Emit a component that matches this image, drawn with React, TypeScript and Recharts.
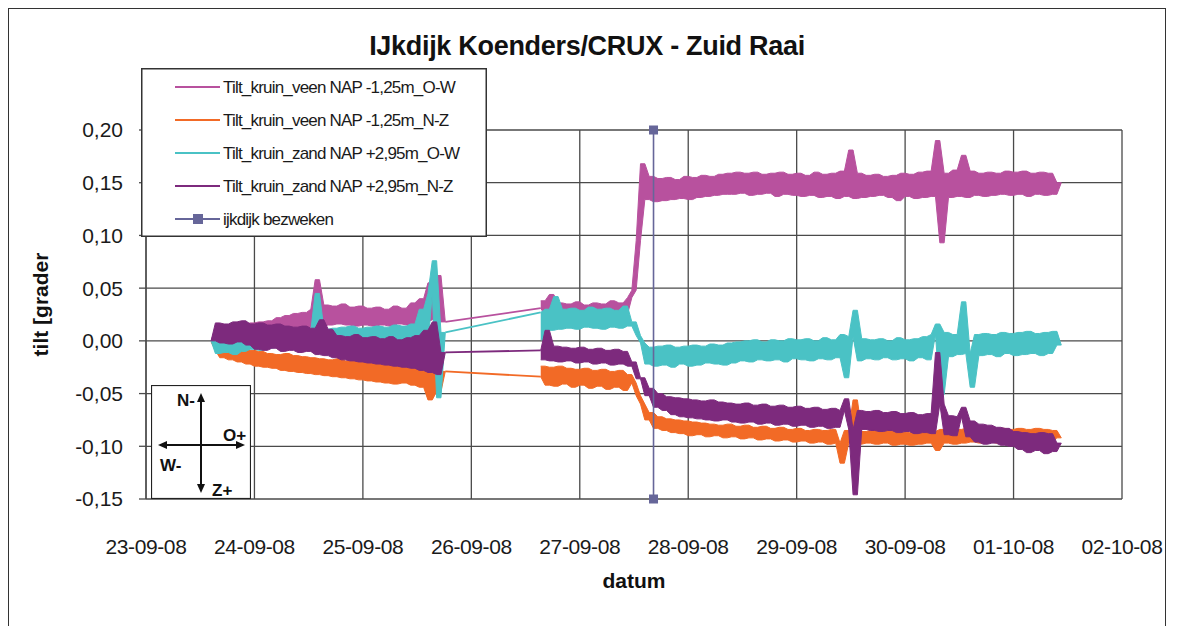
import { ComposedChart, Line, Area, XAxis, YAxis, CartesianGrid, Legend } from "recharts";

// ─── Axis labels ─────────────────────────────────────────────────────────────

const dateLabels = [
	"23-09-08", "24-09-08", "25-09-08", "26-09-08", "27-09-08",
	"28-09-08", "29-09-08", "30-09-08", "01-10-08", "02-10-08",
];
const dayTicks = dateLabels.map((_, i) => i);
const tiltTicks = [-0.15, -0.1, -0.05, 0, 0.05, 0.1, 0.15, 0.2];

// Logger sample grid, in days since 23-09-08 00:00. Two runs with a gap in between.
const run1Start = 0.6;
const run2Start = 3.64;
const sampleStep = 0.04;

// Moment the test dike failed (27-09-08 ~16:20)
const bezwekenDay = 4.68;
const bezwekenTilt = [0.2, -0.15];

// ─── Measured tilt [graden] ──────────────────────────────────────────────────

const veenOW_run1 = [
	0.000, 0.000, 0.012, 0.001, 0.013, 0.002, 0.014, 0.003, 0.016, 0.004,
	0.017, 0.005, 0.018, 0.007, 0.019, 0.008, 0.022, 0.010, 0.024, 0.011,
	0.026, 0.012, 0.027, 0.013, 0.030, 0.058, 0.014, 0.034, 0.015, 0.033,
	0.016, 0.035, 0.015, 0.032, 0.014, 0.033, 0.015, 0.031, 0.014, 0.032,
	0.015, 0.030, 0.014, 0.033, 0.016, 0.031, 0.015, 0.036, 0.016, 0.040,
	0.018, 0.055, 0.020, 0.062, 0.018,
];
const veenOW_run2 = [
	0.031, 0.038, 0.024, 0.044, 0.022, 0.036, 0.023, 0.035, 0.021, 0.037,
	0.023, 0.034, 0.022, 0.036, 0.024, 0.035, 0.022, 0.038, 0.024, 0.036,
	0.025, 0.041, 0.048, 0.095, 0.168, 0.134, 0.156, 0.132, 0.154, 0.133,
	0.155, 0.134, 0.153, 0.135, 0.156, 0.134, 0.155, 0.136, 0.157, 0.137,
	0.156, 0.138, 0.158, 0.139, 0.159, 0.139, 0.160, 0.140, 0.159, 0.138,
	0.160, 0.139, 0.158, 0.140, 0.159, 0.137, 0.160, 0.139, 0.158, 0.138,
	0.159, 0.137, 0.157, 0.138, 0.160, 0.136, 0.158, 0.137, 0.159, 0.135,
	0.161, 0.137, 0.181, 0.135, 0.159, 0.136, 0.157, 0.137, 0.158, 0.138,
	0.156, 0.136, 0.157, 0.133, 0.159, 0.137, 0.158, 0.135, 0.160, 0.136,
	0.161, 0.137, 0.190, 0.093, 0.159, 0.136, 0.162, 0.137, 0.176, 0.136,
	0.161, 0.138, 0.159, 0.137, 0.160, 0.138, 0.159, 0.139, 0.161, 0.138,
	0.160, 0.139, 0.161, 0.137, 0.159, 0.139, 0.160, 0.138, 0.159, 0.139,
	0.150,
];

const veenNZ_run1 = [
	0.000, -0.001, -0.009, -0.016, -0.008, -0.018, -0.009, -0.020, -0.008, -0.022,
	-0.009, -0.024, -0.010, -0.025, -0.012, -0.026, -0.013, -0.028, -0.012, -0.029,
	-0.014, -0.030, -0.015, -0.031, -0.016, -0.032, -0.017, -0.033, -0.018, -0.034,
	-0.017, -0.035, -0.019, -0.036, -0.018, -0.037, -0.020, -0.038, -0.021, -0.039,
	-0.020, -0.040, -0.022, -0.041, -0.021, -0.040, -0.023, -0.042, -0.022, -0.044,
	-0.024, -0.056, -0.025, -0.048, -0.029,
];
const veenNZ_run2 = [
	-0.034, -0.024, -0.042, -0.025, -0.043, -0.024, -0.041, -0.026, -0.044, -0.027,
	-0.042, -0.026, -0.045, -0.028, -0.043, -0.027, -0.046, -0.029, -0.044, -0.028,
	-0.047, -0.032, -0.040, -0.052, -0.060, -0.075, -0.068, -0.083, -0.072, -0.085,
	-0.074, -0.087, -0.075, -0.088, -0.076, -0.090, -0.077, -0.089, -0.078, -0.091,
	-0.079, -0.090, -0.080, -0.092, -0.079, -0.091, -0.081, -0.093, -0.080, -0.092,
	-0.082, -0.094, -0.081, -0.093, -0.083, -0.095, -0.082, -0.094, -0.084, -0.096,
	-0.083, -0.095, -0.085, -0.097, -0.084, -0.096, -0.085, -0.098, -0.084, -0.097,
	-0.116, -0.085, -0.097, -0.056, -0.098, -0.086, -0.097, -0.085, -0.098, -0.086,
	-0.097, -0.085, -0.099, -0.086, -0.098, -0.087, -0.099, -0.086, -0.098, -0.085,
	-0.097, -0.086, -0.104, -0.084, -0.097, -0.085, -0.098, -0.084, -0.097, -0.083,
	-0.096, -0.084, -0.097, -0.083, -0.096, -0.084, -0.097, -0.083, -0.096, -0.084,
	-0.095, -0.083, -0.096, -0.084, -0.095, -0.083, -0.097, -0.084, -0.096, -0.085,
	-0.092,
];

const zandOW_run1 = [
	0.000, 0.000, -0.012, 0.003, -0.011, 0.002, -0.013, 0.004, -0.010, 0.005,
	-0.008, 0.007, -0.009, 0.006, -0.007, 0.008, -0.006, 0.007, -0.008, 0.009,
	-0.005, 0.008, -0.004, 0.010, -0.003, 0.045, -0.002, 0.011, -0.001, 0.012,
	-0.002, 0.013, 0.000, 0.014, -0.001, 0.012, 0.000, 0.013, -0.001, 0.014,
	0.001, 0.013, -0.002, 0.015, 0.000, 0.014, -0.001, 0.016, 0.001, 0.030,
	-0.004, 0.045, 0.076, -0.054, 0.008,
];
const zandOW_run2 = [
	0.027, 0.001, 0.030, 0.010, 0.042, 0.011, 0.030, 0.012, 0.031, 0.011,
	0.029, 0.013, 0.032, 0.012, 0.030, 0.011, 0.031, 0.013, 0.029, 0.012,
	0.033, 0.014, 0.018, 0.005, -0.002, -0.022, -0.006, -0.024, -0.005, -0.023,
	-0.004, -0.025, -0.006, -0.022, -0.005, -0.024, -0.004, -0.023, -0.005, -0.021,
	-0.003, -0.022, -0.004, -0.023, -0.002, -0.021, -0.001, -0.019, 0.000, -0.020,
	0.001, -0.018, -0.001, -0.019, 0.001, -0.018, 0.000, -0.020, 0.002, -0.017,
	0.001, -0.018, 0.002, -0.019, 0.000, -0.017, 0.003, -0.018, 0.001, -0.016,
	0.006, -0.035, 0.004, 0.029, -0.019, 0.002, -0.017, 0.001, -0.018, 0.002,
	-0.016, 0.000, -0.018, 0.003, -0.017, 0.001, -0.019, 0.002, -0.016, 0.004,
	-0.018, 0.006, 0.016, -0.051, 0.008, -0.015, 0.006, -0.013, 0.037, -0.012,
	-0.044, 0.006, -0.014, 0.007, -0.013, 0.006, -0.015, 0.008, -0.012, 0.007,
	-0.014, 0.008, -0.013, 0.009, -0.012, 0.007, -0.014, 0.008, -0.012, 0.009,
	-0.004,
];

const zandNZ_run1 = [
	0.000, 0.000, 0.017, -0.002, 0.016, -0.003, 0.018, -0.001, 0.019, -0.004,
	0.016, -0.008, 0.017, -0.009, 0.015, -0.007, 0.016, -0.010, 0.014, -0.009,
	0.013, -0.011, 0.014, -0.010, 0.012, -0.013, 0.020, -0.014, 0.011, -0.016,
	0.005, -0.018, 0.004, -0.019, 0.006, -0.020, 0.003, -0.021, 0.004, -0.022,
	0.002, -0.023, 0.004, -0.024, 0.001, -0.025, 0.003, -0.026, 0.005, -0.028,
	0.010, -0.030, 0.018, -0.032, -0.011,
];
const zandNZ_run2 = [
	-0.009, -0.018, 0.010, -0.019, -0.005, -0.020, -0.006, -0.019, -0.007, -0.021,
	-0.006, -0.020, -0.008, -0.022, -0.007, -0.021, -0.009, -0.023, -0.008, -0.022,
	-0.010, -0.024, -0.020, -0.036, -0.035, -0.052, -0.045, -0.063, -0.050, -0.066,
	-0.053, -0.070, -0.054, -0.072, -0.055, -0.073, -0.056, -0.074, -0.057, -0.075,
	-0.056, -0.076, -0.058, -0.075, -0.059, -0.077, -0.060, -0.078, -0.059, -0.077,
	-0.061, -0.079, -0.060, -0.078, -0.062, -0.080, -0.061, -0.079, -0.063, -0.081,
	-0.062, -0.080, -0.064, -0.082, -0.063, -0.081, -0.065, -0.083, -0.064, -0.082,
	-0.066, -0.055, -0.084, -0.146, -0.066, -0.084, -0.067, -0.085, -0.066, -0.086,
	-0.068, -0.085, -0.067, -0.087, -0.069, -0.086, -0.068, -0.088, -0.070, -0.087,
	-0.069, -0.088, -0.011, -0.060, -0.089, -0.071, -0.090, -0.072, -0.063, -0.091,
	-0.076, -0.096, -0.079, -0.098, -0.080, -0.097, -0.082, -0.099, -0.083, -0.100,
	-0.086, -0.103, -0.087, -0.106, -0.088, -0.104, -0.087, -0.107, -0.088, -0.105,
	-0.097,
];

// ─── Series ──────────────────────────────────────────────────────────────────

const seriesDefs = [
	{ key: "veenOW", name: "Tilt_kruin_veen NAP -1,25m_O-W", color: "#B8519E", run1: veenOW_run1, run2: veenOW_run2 },
	{ key: "veenNZ", name: "Tilt_kruin_veen NAP -1,25m_N-Z", color: "#F26A26", run1: veenNZ_run1, run2: veenNZ_run2 },
	{ key: "zandOW", name: "Tilt_kruin_zand NAP +2,95m_O-W", color: "#4AC2C5", run1: zandOW_run1, run2: zandOW_run2 },
	{ key: "zandNZ", name: "Tilt_kruin_zand NAP +2,95m_N-Z", color: "#7D2A7D", run1: zandNZ_run1, run2: zandNZ_run2 },
];
const bezwekenName = "ijkdijk bezweken";
const bezwekenColor = "#666699";

// Noise band: range covered between each sample and the next one within a run
function bandRows(start: number, values: number[]) {
	return values.map((v, i) => {
		const next = i + 1 < values.length ? values[i + 1] : v;
		return { t: start + i * sampleStep, band: [Math.min(v, next), Math.max(v, next)] };
	});
}

// Straight connection over the period without measurements
function gapRows(run1: number[], run2: number[]) {
	const last = run1.length - 1;
	return [
		{ t: run1Start + last * sampleStep, gap: run1[last] },
		{ t: run2Start, gap: run2[0] },
	];
}

const bezwekenRows = bezwekenTilt.map((v) => ({ t: bezwekenDay, bezweken: v }));

// ─── Styling ─────────────────────────────────────────────────────────────────

const font = "'Liberation Sans', Arial, sans-serif";
const gridColor = "#4a4a4a";
const tickStyle = { fontFamily: font, fontSize: 21, fill: "#1a1a1a" };

function formatTilt(v: number) {
	return v.toFixed(2).replace(".", ",").replace("-0,00", "0,00");
}

function LegendBox() {
	const items = [
		...seriesDefs.map((s) => ({ name: s.name, color: s.color, marker: false })),
		{ name: bezwekenName, color: bezwekenColor, marker: true },
	];
	return (
		<svg width={346} height={169} style={{ display: "block" }}>
			<rect x={0.75} y={0.75} width={344.5} height={167.5} fill="#fff" stroke="#333" strokeWidth={1.5} />
			{items.map((it, i) => {
				const cy = 19 + i * 33;
				return (
					<g key={it.name}>
						<line x1={34} x2={79} y1={cy} y2={cy} stroke={it.color} strokeWidth={2} />
						{it.marker && <rect x={52} y={cy - 5} width={10} height={10} fill={it.color} />}
						<text
							x={82}
							y={cy + 6}
							fontFamily={font}
							fontSize={17}
							letterSpacing={-0.8}
							fill="#1a1a1a"
						>
							{it.name}
						</text>
					</g>
				);
			})}
		</svg>
	);
}

function Compass() {
	const arrow = "#111";
	return (
		<svg width={100} height={114} style={{ position: "absolute", left: 142, top: 376 }}>
			<rect x={0.5} y={0.5} width={99} height={113} fill="#fff" stroke="#222" strokeWidth={1.2} />
			<line x1={50} y1={14} x2={50} y2={102} stroke={arrow} strokeWidth={2} />
			<polygon points="50,8 46,17 54,17" fill={arrow} />
			<polygon points="50,108 46,99 54,99" fill={arrow} />
			<line x1={13} y1={60} x2={88} y2={60} stroke={arrow} strokeWidth={2} />
			<polygon points="7,60 16,56 16,64" fill={arrow} />
			<polygon points="94,60 85,56 85,64" fill={arrow} />
			<g fontFamily={font} fontSize={17} fontWeight="bold" fill="#111">
				<text x={26} y={21}>N-</text>
				<text x={72} y={56}>O+</text>
				<text x={9} y={86}>W-</text>
				<text x={61} y={111}>Z+</text>
			</g>
		</svg>
	);
}

export default function App() {
	return (
		<div
			style={{
				position: "relative",
				width: 1158,
				height: 640,
				boxSizing: "border-box",
				border: "1px solid #333",
				background: "#fff",
				fontFamily: font,
			}}
		>
			<div
				style={{
					position: "absolute",
					left: 0,
					top: 24,
					width: 1156,
					textAlign: "center",
					fontSize: 27,
					lineHeight: "27px",
					fontWeight: "bold",
					letterSpacing: -0.3,
					color: "#111",
				}}
			>
				IJkdijk Koenders/CRUX - Zuid Raai
			</div>
			<ComposedChart width={1156} height={600} margin={{ top: 121, right: 43, bottom: 20, left: 22 }}>
				<CartesianGrid stroke={gridColor} strokeWidth={1.3} />
				<XAxis
					dataKey="t"
					type="number"
					domain={[0, 9]}
					ticks={dayTicks}
					tickFormatter={(v: number) => dateLabels[v] ?? ""}
					tick={{ ...tickStyle, letterSpacing: -0.4 }}
					tickLine={false}
					axisLine={false}
					tickMargin={34}
					height={90}
					interval={0}
					allowDuplicatedCategory={false}
					label={{
						content: ({ viewBox }: any) => (
							<text
								x={viewBox.x + viewBox.width / 2}
								y={viewBox.y + 89}
								textAnchor="middle"
								fontFamily={font}
								fontSize={21}
								fontWeight="bold"
								fill="#111"
							>
								datum
							</text>
						),
					}}
				/>
				<YAxis
					type="number"
					domain={[-0.15, 0.2]}
					ticks={tiltTicks}
					tickFormatter={formatTilt}
					tick={tickStyle}
					axisLine={{ stroke: gridColor, strokeWidth: 1.3 }}
					tickLine={{ stroke: gridColor, strokeWidth: 1.3 }}
					tickSize={7}
					tickMargin={16}
					width={115}
					interval={0}
					label={{
						content: ({ viewBox }: any) => {
							const x = viewBox.x + 9;
							const y = viewBox.y + viewBox.height / 2 - 10;
							return (
								<text
									x={x}
									y={y}
									transform={`rotate(-90, ${x}, ${y})`}
									textAnchor="middle"
									dominantBaseline="central"
									fontFamily={font}
									fontSize={21}
									fontWeight="bold"
									fill="#111"
								>
									tilt [grader
								</text>
							);
						},
					}}
				/>
				{seriesDefs.flatMap((s) => [
					<Area
						key={`${s.key}-band1`}
						data={bandRows(run1Start, s.run1)}
						dataKey="band"
						name={s.name}
						type="linear"
						stroke={s.color}
						strokeWidth={1}
						fill={s.color}
						fillOpacity={1}
						dot={false}
						activeDot={false}
						isAnimationActive={false}
					/>,
					<Area
						key={`${s.key}-band2`}
						data={bandRows(run2Start, s.run2)}
						dataKey="band"
						name={s.name}
						type="linear"
						stroke={s.color}
						strokeWidth={1}
						fill={s.color}
						fillOpacity={1}
						dot={false}
						activeDot={false}
						isAnimationActive={false}
					/>,
				])}
				{seriesDefs.map((s) => (
					<Line
						key={`${s.key}-gap`}
						data={gapRows(s.run1, s.run2)}
						dataKey="gap"
						name={s.name}
						type="linear"
						stroke={s.color}
						strokeWidth={1.8}
						dot={false}
						activeDot={false}
						isAnimationActive={false}
					/>
				))}
				<Line
					data={bezwekenRows}
					dataKey="bezweken"
					name={bezwekenName}
					type="linear"
					stroke={bezwekenColor}
					strokeWidth={1.6}
					dot={(p: any) => (
						<rect key={`bz-${p.index}`} x={p.cx - 4.5} y={p.cy - 4.5} width={9} height={9} fill={bezwekenColor} />
					)}
					activeDot={false}
					isAnimationActive={false}
				/>
				<Legend
					layout="vertical"
					align="center"
					verticalAlign="middle"
					wrapperStyle={{ left: 132, top: 59, width: 346, height: 169 }}
					content={() => <LegendBox />}
				/>
			</ComposedChart>
			<Compass />
		</div>
	);
}
